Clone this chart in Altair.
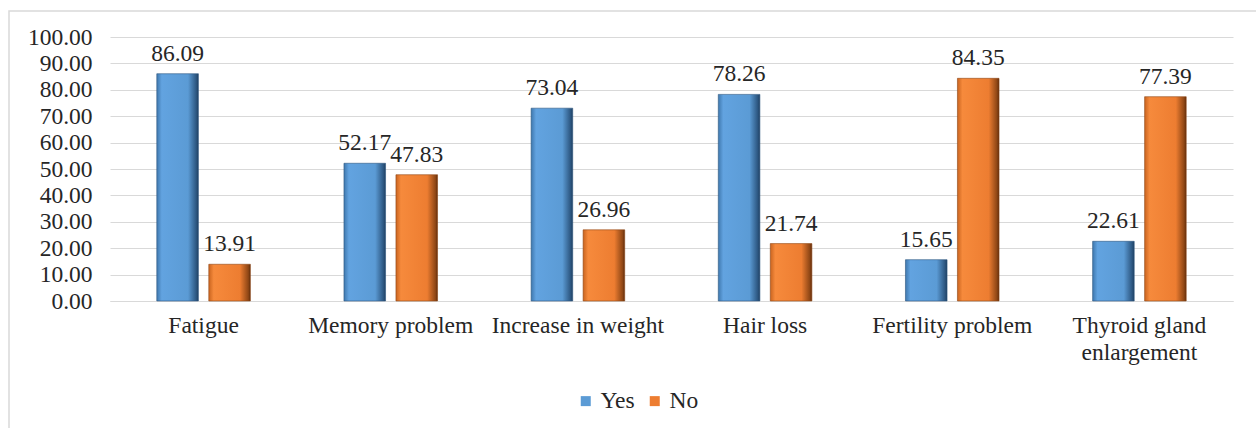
import altair as alt
import pandas as pd

categories = ["Fatigue", "Memory problem", "Increase in weight", "Hair loss",
              "Fertility problem", "Thyroid gland enlargement"]
yes_values = [86.09, 52.17, 73.04, 78.26, 15.65, 22.61]
no_values = [13.91, 47.83, 26.96, 21.74, 84.35, 77.39]
series = ["Yes", "No"]
series_colors = ["#5B9BD5", "#ED7D31"]
y_ticks = [0, 10, 20, 30, 40, 50, 60, 70, 80, 90, 100]

rows = []
for c, y, n in zip(categories, yes_values, no_values):
    rows.append({"cat": c, "series": "Yes", "value": y})
    rows.append({"cat": c, "series": "No", "value": n})
df = pd.DataFrame(rows)

FONT = "Liberation Serif"
TXT = "#262626"
FS = 23.5

blue_grad = alt.Gradient(
    gradient="linear", x1=0, x2=1, y1=0, y2=0,
    stops=[alt.GradientStop(color="#3F78AE", offset=0),
           alt.GradientStop(color="#62A3E0", offset=0.12),
           alt.GradientStop(color="#5B9BD5", offset=0.75),
           alt.GradientStop(color="#2C5680", offset=0.95),
           alt.GradientStop(color="#1F3F60", offset=1)])
orange_grad = alt.Gradient(
    gradient="linear", x1=0, x2=1, y1=0, y2=0,
    stops=[alt.GradientStop(color="#C9641F", offset=0),
           alt.GradientStop(color="#F68A3C", offset=0.12),
           alt.GradientStop(color="#ED7D31", offset=0.75),
           alt.GradientStop(color="#8E4615", offset=0.95),
           alt.GradientStop(color="#5E2C0B", offset=1)])

x_enc = alt.X("cat:N", sort=categories,
              scale=alt.Scale(domain=categories, paddingInner=0.5, paddingOuter=0.25),
              axis=alt.Axis(title=None, labelAngle=0, domain=True, domainColor="#D9D9D9",
                            ticks=False, labelFont=FONT, labelFontSize=FS, labelColor=TXT,
                            labelPadding=12, labelBaseline="top", labelLineHeight=27,
                            labelOverlap=False, labelLimit=300,
                            labelExpr="split(replace(datum.label, 'Thyroid gland enlargement', 'Thyroid gland|enlargement'), '|')"))
xoff = alt.XOffset("series:N", scale=alt.Scale(domain=series, paddingInner=0.2))
y_enc = alt.Y("value:Q", scale=alt.Scale(domain=[0, 100], nice=False),
              axis=alt.Axis(title=None, values=y_ticks, format=".2f", domain=False, ticks=False,
                            grid=True, gridColor="#D9D9D9", gridWidth=1, labelOverlap=False,
                            labelFont=FONT, labelFontSize=FS, labelColor=TXT, labelPadding=18))

base = alt.Chart(df).encode(x=x_enc, xOffset=xoff, y=y_enc)

frame = alt.Chart(pd.DataFrame({"a": [0]})).mark_rect(
    fill=None, stroke="#D9D9D9", strokeWidth=1.5).encode(
    x=alt.value(-101), x2=alt.value(1170), y=alt.value(-26), y2=alt.value(420))

bars_yes = base.transform_filter(alt.datum.series == "Yes").mark_bar(
    fill=blue_grad, stroke="#2C5680", strokeWidth=0.6)
bars_no = base.transform_filter(alt.datum.series == "No").mark_bar(
    fill=orange_grad, stroke="#8E4615", strokeWidth=0.6)

labels = base.mark_text(font=FONT, fontSize=FS, color=TXT, baseline="alphabetic", dy=-13).encode(
    text=alt.Text("value:Q", format=".2f"))

legend_layer = base.mark_point(opacity=0, shape="square", filled=True).encode(
    color=alt.Color("series:N", scale=alt.Scale(domain=series, range=series_colors),
                    legend=alt.Legend(title=None, orient="none", direction="horizontal",
                                      legendX=464, legendY=352, symbolType="square",
                                      symbolSize=100, symbolOpacity=1, symbolStrokeWidth=0,
                                      labelFont=FONT, labelFontSize=FS, labelColor=TXT,
                                      labelOffset=3, columnPadding=8)))

chart = alt.layer(frame, bars_yes, bars_no, labels, legend_layer).properties(
    width=1123, height=264,
    autosize=alt.AutoSizeParams(type="none"),
    padding={"left": 110, "top": 37, "right": 23, "bottom": 127},
).configure(background="white", font=FONT).configure_view(stroke=None)

chart.save("out.html", embed_options={"renderer": "svg", "actions": False})
